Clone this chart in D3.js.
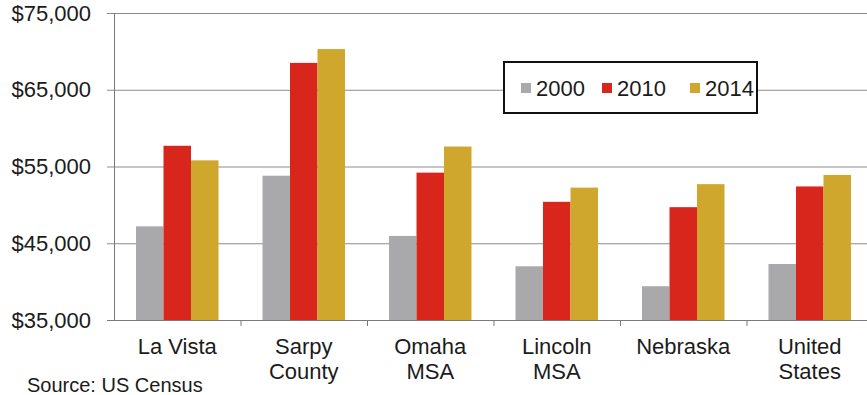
<!DOCTYPE html>
<html>
<head>
<meta charset="utf-8">
<script src="https://cdn.jsdelivr.net/npm/d3@7"></script>
<style>
  html, body { margin: 0; padding: 0; background: #ffffff; }
  svg { display: block; }
  text { font-family: Arial, "Liberation Sans", sans-serif; fill: #1b1b1b; }
</style>
</head>
<body>
<svg id="chart" width="867" height="395"></svg>
<script>
// Median household income by place and census year
const categories = [["La Vista"], ["Sarpy", "County"], ["Omaha", "MSA"], ["Lincoln", "MSA"], ["Nebraska"], ["United", "States"]];
const years = ["2000", "2010", "2014"];
const values2000 = [47200, 53800, 45950, 42000, 39400, 42300];
const values2010 = [57700, 68500, 54200, 50400, 49700, 52400];
const values2014 = [55800, 70300, 57600, 52250, 52700, 53900];
const yTicks = [35000, 45000, 55000, 65000, 75000];
const colors = ["#a9a9ac", "#d8261c", "#cfa72d"];
const sourceNote = "Source: US Census";

const series = [values2000, values2010, values2014];
const catKeys = categories.map(c => c.join(" "));

const svg = d3.select("#chart");
const plotLeft = 114, plotRight = 873, plotTop = 13, plotBottom = 320;

const y = d3.scaleLinear().domain([35000, 75000]).range([plotBottom, plotTop]);
const x0 = d3.scaleBand().domain(catKeys).range([plotLeft, plotRight]).padding(0);
const x1 = d3.scaleBand().domain(years).range([0, x0.bandwidth()])
  .paddingInner(0).paddingOuter(0.8);

// horizontal gridlines with outside ticks
svg.append("g")
  .selectAll("line")
  .data(yTicks)
  .join("line")
  .attr("x1", plotLeft - 7).attr("x2", 867)
  .attr("y1", d => y(d) + 0.5).attr("y2", d => y(d) + 0.5)
  .attr("stroke", d => d === 35000 ? "#7a7a7a" : "#8c8c8c")
  .attr("stroke-width", 1);

// y labels
const fmt = d3.format("$,");
svg.append("g")
  .selectAll("text")
  .data(yTicks)
  .join("text")
  .attr("x", 91).attr("y", d => y(d))
  .attr("dy", "0.35em")
  .attr("text-anchor", "end")
  .style("font-size", "22px")
  .text(d => fmt(d));

// bars
const groups = svg.append("g")
  .selectAll("g")
  .data(catKeys)
  .join("g")
  .attr("transform", d => `translate(${x0(d)},0)`);

groups.selectAll("rect")
  .data((d, i) => years.map((yr, j) => ({ yr, j, v: series[j][i] })))
  .join("rect")
  .attr("x", d => x1(d.yr))
  .attr("width", x1.bandwidth())
  .attr("y", d => y(d.v))
  .attr("height", d => plotBottom - y(d.v))
  .attr("fill", d => colors[d.j]);

// y axis line
svg.append("line")
  .attr("x1", plotLeft + 0.5).attr("x2", plotLeft + 0.5)
  .attr("y1", plotTop).attr("y2", plotBottom + 1)
  .attr("stroke", "#7a7a7a");

// x axis line and category ticks
svg.append("line")
  .attr("x1", plotLeft).attr("x2", 867)
  .attr("y1", plotBottom + 0.5).attr("y2", plotBottom + 0.5)
  .attr("stroke", "#7a7a7a");
svg.append("g")
  .selectAll("line")
  .data(catKeys.slice(1))
  .join("line")
  .attr("x1", d => x0(d) + 0.5).attr("x2", d => x0(d) + 0.5)
  .attr("y1", plotBottom).attr("y2", plotBottom + 6)
  .attr("stroke", "#7a7a7a");

// category labels
const labels = svg.append("g")
  .selectAll("text")
  .data(categories)
  .join("text")
  .attr("x", (d, i) => x0(catKeys[i]) + x0.bandwidth() / 2)
  .attr("y", 354)
  .attr("text-anchor", "middle")
  .style("font-size", "22px");
labels.selectAll("tspan")
  .data(d => d)
  .join("tspan")
  .attr("x", function () { return d3.select(this.parentNode).attr("x"); })
  .attr("dy", (d, i) => i === 0 ? 0 : 25)
  .text(d => d);

// legend
const legend = svg.append("g");
legend.append("rect")
  .attr("x", 504).attr("y", 62).attr("width", 253).attr("height", 51)
  .attr("fill", "#ffffff").attr("stroke", "#111").attr("stroke-width", 2);
const legendX = [521, 602, 690];
years.forEach((yr, j) => {
  legend.append("rect")
    .attr("x", legendX[j]).attr("y", 83).attr("width", 10).attr("height", 10)
    .attr("fill", colors[j]);
  legend.append("text")
    .attr("x", legendX[j] + 15).attr("y", 96)
    .style("font-size", "22px")
    .text(yr);
});

// source note
svg.append("text")
  .attr("x", 27).attr("y", 392)
  .style("font-size", "20px")
  .text(sourceNote);
</script>
</body>
</html>
